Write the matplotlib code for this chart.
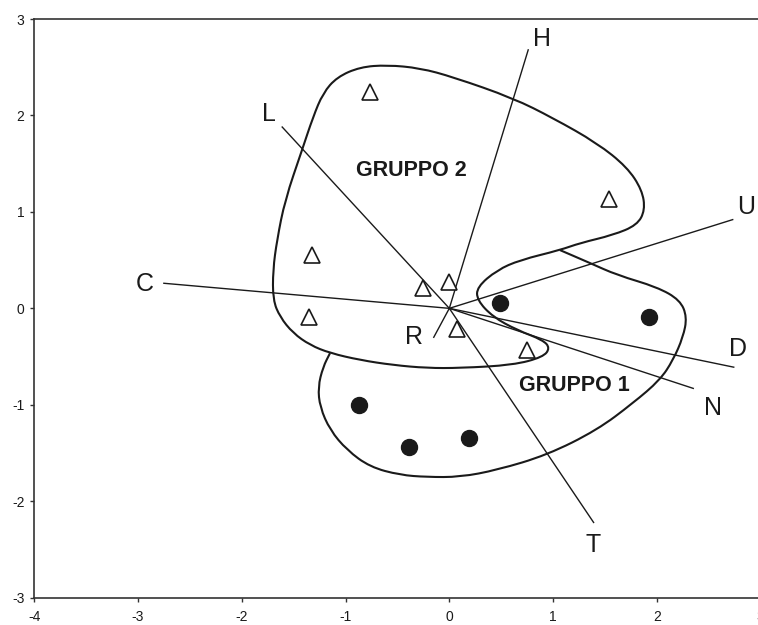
import numpy as np
import matplotlib.pyplot as plt
from matplotlib.path import Path
from matplotlib.patches import PathPatch

plt.rcParams["font.family"] = ["Liberation Sans", "DejaVu Sans"]
plt.rcParams["axes.unicode_minus"] = False


# ── Data ──────────────────────────────────────────────────────────────────────

# open triangles (GRUPPO 2)
tri_x = [-0.76, -1.32, -1.35, -0.25, 0.00, 0.075, 0.75, 1.54]
tri_y = [2.24, 0.55, -0.09, 0.21, 0.27, -0.21, -0.43, 1.13]

# filled dots (GRUPPO 1)
dot_x = [0.49, 1.92, -0.87, -0.39, 0.19]
dot_y = [0.06, -0.09, -1.00, -1.44, -1.34]

# variable vectors, drawn from the origin
vec_names = ["C", "L", "H", "U", "D", "N", "T", "R"]
vec_x = [-2.75, -1.61, 0.76, 2.73, 2.74, 2.35, 1.39, -0.15]
vec_y = [0.26, 1.88, 2.68, 0.92, -0.61, -0.83, -2.22, -0.30]
lab_x = [-2.93, -1.74, 0.89, 2.86, 2.78, 2.54, 1.39, -0.34]
lab_y = [0.25, 2.02, 2.79, 1.05, -0.42, -1.03, -2.45, -0.30]

# hand drawn outline around group 2 (closed)
g2_x = [-0.600, -0.282, 0.036, 0.614, 0.999, 1.423, 1.712, 1.857, 1.886, 1.809,
        1.577, 1.259, 1.066, 0.681, 0.460, 0.267, 0.267, 0.421, 0.652, 0.903,
        0.970, 0.903, 0.614, 0.103, -0.215, -0.542, -0.860, -1.149, -1.342, -1.506,
        -1.631, -1.699, -1.699, -1.660, -1.583, -1.419, -1.313, -1.217, -1.082, -0.860]
g2_y = [2.523, 2.491, 2.398, 2.180, 1.973, 1.714, 1.465, 1.227, 1.019, 0.863,
        0.760, 0.677, 0.604, 0.501, 0.397, 0.221, 0.086, -0.090, -0.225, -0.329,
        -0.412, -0.505, -0.588, -0.619, -0.619, -0.588, -0.536, -0.464, -0.381, -0.256,
        -0.090, 0.086, 0.397, 0.708, 1.123, 1.641, 1.983, 2.232, 2.398, 2.502]

# outline around group 1 (open, both ends sit on the group 2 outline)
g1_x = [-1.149, -1.217, -1.265, -1.246, -1.149, -0.986, -0.764, -0.475, -0.215, 0.103,
        0.460, 0.941, 1.423, 1.770, 2.030, 2.156, 2.252, 2.290, 2.223, 2.001,
        1.616, 1.355, 1.066]
g1_y = [-0.464, -0.609, -0.817, -1.024, -1.262, -1.470, -1.645, -1.728, -1.749, -1.749,
        -1.676, -1.521, -1.262, -0.982, -0.743, -0.536, -0.298, -0.090, 0.086, 0.221,
        0.345, 0.470, 0.604]

groups = [("GRUPPO 2", -0.37, 1.43), ("GRUPPO 1", 1.20, -0.80)]

INK = "#1a1a1a"


def smooth_path(xs, ys, closed):
    # quadratic b-spline style path: vertices act as control points
    pts = np.column_stack([xs, ys])
    mids = (pts + np.roll(pts, -1, axis=0)) / 2.0
    n = len(pts)
    if closed:
        verts = [mids[0]]
        codes = [Path.MOVETO]
        for i in range(1, n + 1):
            k = i % n
            verts += [pts[k], mids[k]]
            codes += [Path.CURVE3, Path.CURVE3]
    else:
        verts = [pts[0], mids[0]]
        codes = [Path.MOVETO, Path.LINETO]
        for i in range(1, n - 1):
            verts += [pts[i], mids[i]]
            codes += [Path.CURVE3, Path.CURVE3]
        verts.append(pts[-1])
        codes.append(Path.LINETO)
    return Path(verts, codes)


fig = plt.figure(figsize=(7.58, 6.25), dpi=100)
ax = fig.add_axes([0.045, 0.0437, 0.9586, 0.9259])

ax.add_patch(PathPatch(smooth_path(g2_x, g2_y, True), fill=False, lw=1.5, ec=INK))
ax.add_patch(PathPatch(smooth_path(g1_x, g1_y, False), fill=False, lw=1.5, ec=INK))

for name, vx, vy, tx, ty in zip(vec_names, vec_x, vec_y, lab_x, lab_y):
    ax.plot([0, vx], [0, vy], color=INK, lw=1.0)
    ax.text(tx, ty, name, fontsize=18, ha="center", va="center", color=INK)

ax.plot(tri_x, tri_y, ls="none", marker="^", ms=12, mfc="white", mec=INK, mew=1.2)
ax.plot(dot_x, dot_y, ls="none", marker="o", ms=11.5, mfc=INK, mec=INK)

for label, gx, gy in groups:
    ax.text(gx, gy, label, fontsize=15.5, fontweight="bold", ha="center", va="center", color=INK)

ax.set_xlim(-4, 3)
ax.set_ylim(-3, 3)
ax.set_xticks(np.arange(-4, 4, 1))
ax.set_yticks(np.arange(-3, 4, 1))
for s in ax.spines.values():
    s.set_linewidth(1.2)
    s.set_color("#333333")
ax.tick_params(direction="out", length=3, width=1, colors="#333333", labelsize=10, labelcolor=INK)
ax.tick_params(axis="x", pad=6)
ax.tick_params(axis="y", pad=4)

fig.savefig("out.png", dpi=100)
